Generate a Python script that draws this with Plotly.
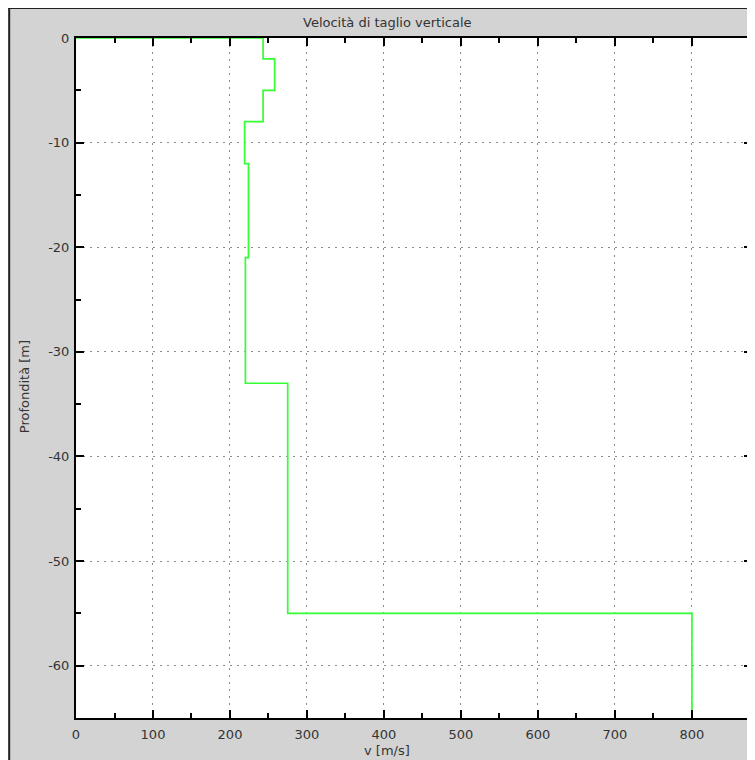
import plotly.graph_objects as go

# Layer data
velocities = [243, 258, 243, 219, 224, 220, 275, 800]      # v [m/s]
layer_tops = [0, 2, 5, 8, 12, 21, 33, 55]                  # depth [m]
layer_bottoms = [2, 5, 8, 12, 21, 33, 55, 65]              # depth [m]

x_major = [0, 100, 200, 300, 400, 500, 600, 700, 800]
x_minor = [50, 150, 250, 350, 450, 550, 650, 750]
y_major = [0, -10, -20, -30, -40, -50, -60]
y_minor = [-5, -15, -25, -35, -45, -55, -65]

# Build step profile
xs = [0]
ys = [0]
for v, t, b in zip(velocities, layer_tops, layer_bottoms):
    xs += [v, v]
    ys += [-t, -b]

W, H = 755, 760
L, R, T, B = 68, 9, 30, 50
pw = W - L - R
ph = H - T - B

def px2paperx(px):
    return (px - L) / pw

def px2papery(py):
    return (H - B - py) / ph

FONT = dict(family="DejaVu Sans", size=13, color="#333333")

fig = go.Figure()
fig.add_trace(go.Scatter(x=xs, y=ys, mode="lines",
                         line=dict(color="#33ff33", width=1.7),
                         hoverinfo="skip", showlegend=False))

axis_common = dict(
    showline=True, linecolor="black", linewidth=2, mirror="ticks",
    ticks="inside", ticklen=8, tickwidth=2, tickcolor="black",
    showgrid=True, gridcolor="#8a8a8a", gridwidth=1, griddash="2px,5px",
    zeroline=False,
    tickfont=FONT,
)

fig.update_xaxes(range=[0, 878], tickmode="array", tickvals=x_major,
                 ticktext=[str(v) for v in x_major], ticklabelstandoff=3,
                 minor=dict(tickmode="array", tickvals=x_minor, ticks="inside",
                            ticklen=5, tickwidth=2, tickcolor="black", showgrid=False),
                 **axis_common)
fig.update_yaxes(range=[-65, 0], tickmode="array", tickvals=y_major,
                 ticktext=[str(v) for v in y_major], ticklabelstandoff=2,
                 minor=dict(tickmode="array", tickvals=y_minor, ticks="inside",
                            ticklen=5, tickwidth=2, tickcolor="black", showgrid=False),
                 **axis_common)

shapes = [
    # window frame lines along the figure's left and top edges
    dict(type="line", xref="paper", yref="paper",
         x0=px2paperx(1), x1=px2paperx(1), y0=px2papery(H + 5), y1=px2papery(0),
         line=dict(color="#222222", width=2), layer="above"),
    dict(type="line", xref="paper", yref="paper",
         x0=px2paperx(0), x1=px2paperx(W + 5), y0=px2papery(0), y1=px2papery(0),
         line=dict(color="#222222", width=2), layer="above"),
]

annotations = [
    dict(text="Velocità di taglio verticale", xref="paper", yref="paper",
         x=px2paperx(380), y=px2papery(14), showarrow=False,
         xanchor="center", yanchor="middle", font=FONT),
    dict(text="v [m/s]", xref="paper", yref="paper",
         x=px2paperx(380), y=px2papery(742), showarrow=False,
         xanchor="center", yanchor="middle", font=FONT),
    dict(text="Profondità [m]", xref="paper", yref="paper",
         x=px2paperx(17), y=px2papery(379), showarrow=False, textangle=-90,
         xanchor="center", yanchor="middle", font=FONT),
]

fig.update_layout(
    width=W, height=H,
    margin=dict(l=L, r=R, t=T, b=B),
    paper_bgcolor="#d3d3d3", plot_bgcolor="white",
    shapes=shapes, annotations=annotations,
    showlegend=False,
)

fig.write_html("out.html")
